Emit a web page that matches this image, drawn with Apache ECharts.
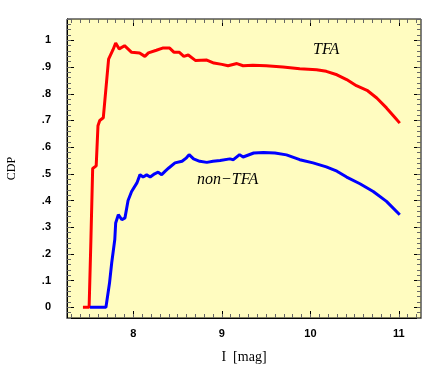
<!DOCTYPE html>
<html>
<head>
<meta charset="utf-8">
<script src="https://cdn.jsdelivr.net/npm/echarts@6/dist/echarts.min.js"></script>
<style>
  html, body { margin: 0; padding: 0; background: #fff; }
  #chart { width: 436px; height: 381px; }
</style>
</head>
<body>
<div id="chart"></div>
<script>
// TFA 曲线 [I mag, CDP]
const tfaData = [
  [7.43, 0], [7.50, 0], [7.52, 0.25], [7.54, 0.52], [7.58, 0.53], [7.60, 0.68],
  [7.62, 0.70], [7.66, 0.71], [7.72, 0.93], [7.77, 0.965], [7.80, 0.99], [7.84, 0.968],
  [7.90, 0.98], [7.98, 0.955], [8.07, 0.953], [8.13, 0.94], [8.17, 0.953], [8.26, 0.963],
  [8.33, 0.971], [8.41, 0.971], [8.46, 0.955], [8.52, 0.955], [8.57, 0.94], [8.62, 0.945],
  [8.70, 0.925], [8.83, 0.926], [8.91, 0.915], [9.00, 0.91], [9.07, 0.905], [9.17, 0.913],
  [9.24, 0.905], [9.35, 0.907], [9.50, 0.905], [9.69, 0.90], [9.88, 0.894], [10.07, 0.89],
  [10.18, 0.884], [10.30, 0.871], [10.41, 0.853], [10.52, 0.83], [10.64, 0.813],
  [10.75, 0.784], [10.86, 0.747], [10.96, 0.709], [11.01, 0.69]
]

// non-TFA 曲线
const nonTfaData = [
  [7.51, 0], [7.69, 0], [7.73, 0.09], [7.755, 0.166], [7.79, 0.254], [7.80, 0.316],
  [7.83, 0.347], [7.87, 0.328], [7.905, 0.335], [7.94, 0.40], [7.98, 0.434], [8.04, 0.466],
  [8.075, 0.497], [8.11, 0.488], [8.15, 0.496], [8.19, 0.488], [8.24, 0.50], [8.28, 0.506],
  [8.32, 0.497], [8.36, 0.51], [8.40, 0.522], [8.47, 0.541], [8.55, 0.547], [8.60, 0.56],
  [8.63, 0.572], [8.68, 0.556], [8.75, 0.547], [8.83, 0.543], [8.90, 0.547], [8.98, 0.55],
  [9.09, 0.556], [9.13, 0.553], [9.20, 0.572], [9.24, 0.563], [9.36, 0.578], [9.47, 0.58],
  [9.60, 0.578], [9.73, 0.571], [9.88, 0.553], [10.03, 0.541], [10.18, 0.526], [10.30, 0.51],
  [10.41, 0.488], [10.56, 0.463], [10.71, 0.434], [10.86, 0.397], [11.01, 0.347]
]

// 刻度
const xMajor = [8, 9, 10, 11]
const yMajor = [0, 0.1, 0.2, 0.3, 0.4, 0.5, 0.6, 0.7, 0.8, 0.9, 1]
const yLabels = ['0', '.1', '.2', '.3', '.4', '.5', '.6', '.7', '.8', '.9', '1']

const xMinor = []
for (let i = 73; i <= 112; i++) xMinor.push(i / 10)
const yMinor = []
for (let i = -2; i <= 54; i++) yMinor.push(i / 50)

const X_MIN = 7.25, X_MAX = 11.25
const Y_MIN = -0.04, Y_MAX = 1.08

const labelFont = { color: '#000', fontSize: 11, fontWeight: 'bold', fontFamily: 'Liberation Sans, Arial, sans-serif' }

// 生成一根只画刻度的轴
const tickAxis = (type, position, values, len, color) => ({
  type: 'value',
  position,
  min: type === 'x' ? X_MIN : Y_MIN,
  max: type === 'x' ? X_MAX : Y_MAX,
  axisLine: { show: false, onZero: false },
  axisTick: { show: true, inside: true, length: len, customValues: values, lineStyle: { color, width: 1 } },
  axisLabel: { show: true, customValues: values, formatter: () => '' },
  splitLine: { show: false }
})

const chart = echarts.init(document.getElementById('chart'), null, { renderer: 'canvas' })

const option = {
  animation: false,
  backgroundColor: '#ffffff',
  grid: {
    left: 67, right: 15, top: 19, bottom: 63,
    outerBoundsMode: 'none',
    containLabel: false,
    show: true,
    backgroundColor: '#fffcc0',
    borderColor: '#000',
    borderWidth: 1
  },
  xAxis: [
    {
      type: 'value',
      position: 'bottom',
      min: X_MIN,
      max: X_MAX,
      name: 'I  [mag]',
      nameLocation: 'middle',
      nameGap: 32,
      nameTextStyle: { color: '#000', fontSize: 14, fontFamily: 'Liberation Serif, DejaVu Serif, serif' },
      axisLine: { show: true, onZero: false, lineStyle: { color: '#000', width: 1 } },
      axisTick: { show: true, inside: true, length: 7, customValues: xMajor, lineStyle: { color: '#000' } },
      axisLabel: { ...labelFont, margin: 10, customValues: xMajor, formatter: v => String(v) },
      splitLine: { show: false }
    },
    tickAxis('x', 'bottom', xMinor, 4, '#666'),
    tickAxis('x', 'top', xMajor, 7, '#000'),
    tickAxis('x', 'top', xMinor, 4, '#666')
  ],
  yAxis: [
    {
      type: 'value',
      position: 'left',
      min: Y_MIN,
      max: Y_MAX,
      name: 'CDP',
      nameLocation: 'middle',
      nameGap: 49,
      nameRotate: 90,
      nameTextStyle: { color: '#000', fontSize: 12, fontFamily: 'Liberation Serif, DejaVu Serif, serif' },
      axisLine: { show: true, onZero: false, lineStyle: { color: '#000', width: 1 } },
      axisTick: { show: true, inside: true, length: 7, customValues: yMajor, lineStyle: { color: '#000' } },
      axisLabel: {
        ...labelFont,
        margin: 16,
        customValues: yMajor,
        formatter: v => yLabels[Math.round(v * 10)]
      },
      splitLine: { show: false }
    },
    tickAxis('y', 'left', yMinor, 4, '#666'),
    tickAxis('y', 'right', yMajor, 7, '#000'),
    tickAxis('y', 'right', yMinor, 4, '#666')
  ],
  graphic: [
    {
      type: 'text',
      left: 313,
      top: 42,
      style: { text: 'TFA', fill: '#000', font: 'italic 16px "Liberation Serif", serif' }
    },
    {
      type: 'text',
      left: 197,
      top: 172,
      style: { text: 'non\u2212TFA', fill: '#000', font: 'italic 16px "Liberation Serif", serif' }
    }
  ],
  series: [
    {
      name: 'TFA',
      type: 'line',
      xAxisIndex: 0,
      yAxisIndex: 0,
      data: tfaData,
      showSymbol: false,
      lineStyle: { color: '#ff0000', width: 3 },
      itemStyle: { color: '#ff0000' }
    },
    {
      name: 'non-TFA',
      type: 'line',
      xAxisIndex: 0,
      yAxisIndex: 0,
      data: nonTfaData,
      showSymbol: false,
      lineStyle: { color: '#0000ff', width: 3 },
      itemStyle: { color: '#0000ff' }
    }
  ]
}

chart.setOption(option)
</script>
</body>
</html>
